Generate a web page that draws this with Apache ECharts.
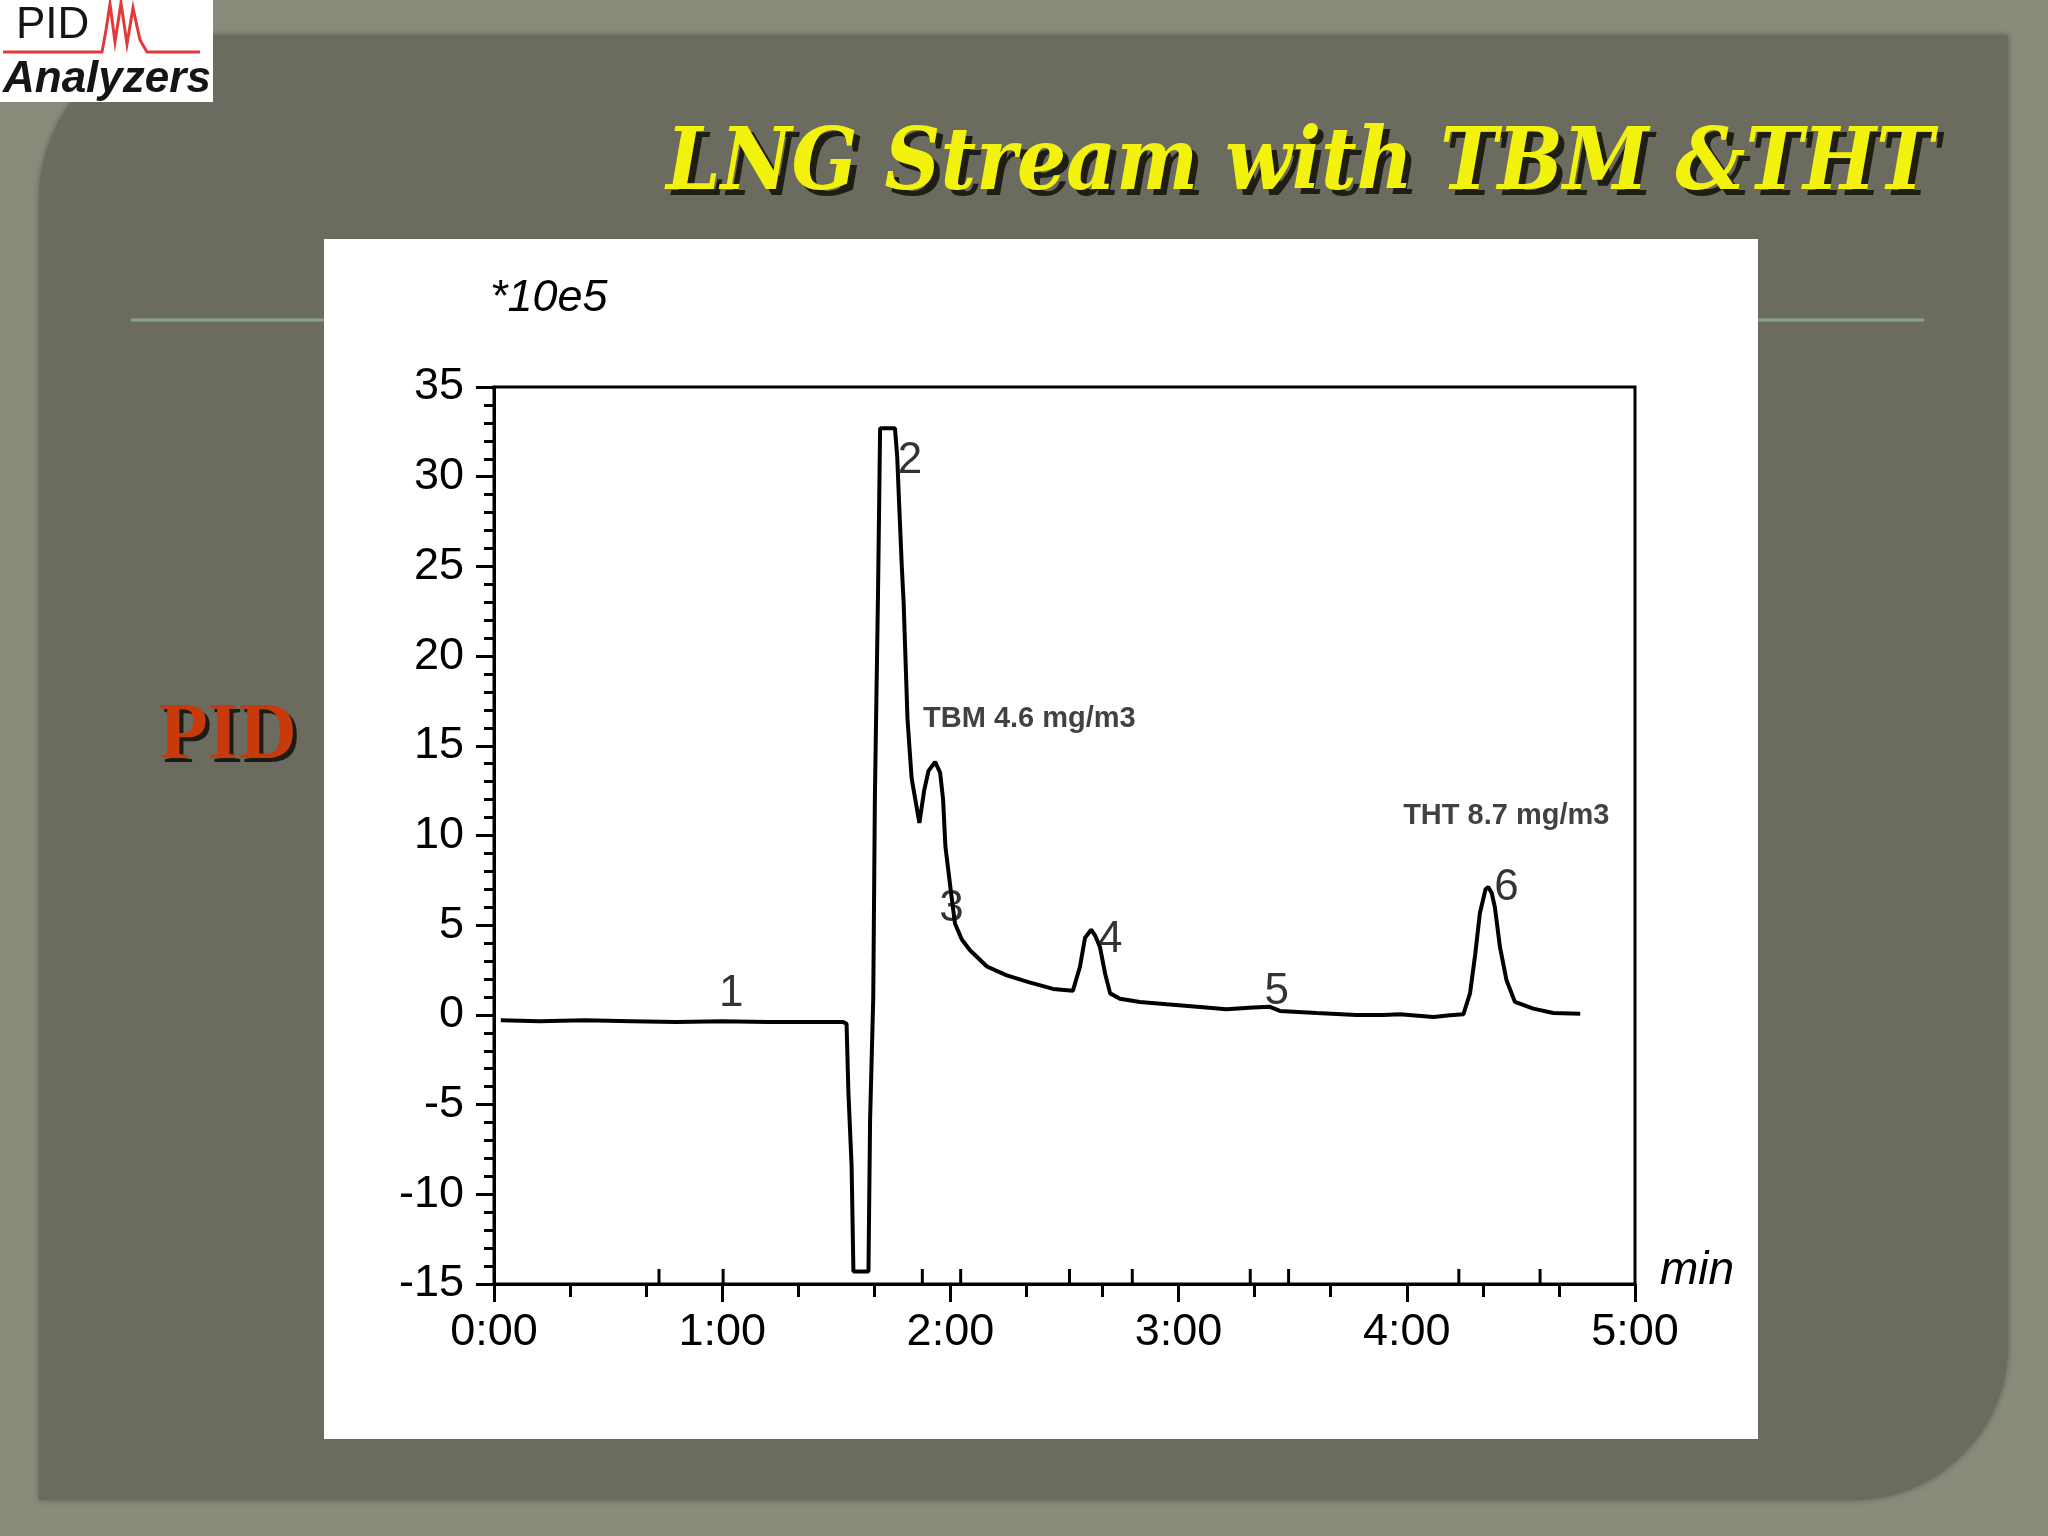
<!DOCTYPE html>
<html>
<head>
<meta charset="utf-8">
<script src="https://cdn.jsdelivr.net/npm/echarts@6/dist/echarts.min.js"></script>
<style>
html,body{margin:0;padding:0;background:#8a8c7b;}
#chart{width:2048px;height:1536px;}
</style>
</head>
<body>
<div id="chart"></div>
<script>
// ---- data (time in minutes, signal in units of 10e5) ----
const times = [0.03,0.2,0.4,0.6,0.8,1.0,1.2,1.4,1.53,
  1.545,1.553,1.567,1.575,1.641,
  1.648,1.662,1.669,1.683,1.692,1.757,
  1.767,1.775,1.787,1.795,1.812,1.83,1.864,
  1.885,1.904,1.933,1.955,1.968,1.978,2.0,2.02,2.05,2.086,2.16,2.247,2.35,2.45,2.537,
  2.568,2.59,2.617,2.635,2.655,2.678,2.70,2.743,2.83,2.948,3.094,3.21,3.327,3.40,3.444,3.605,3.78,3.897,3.97,4.117,4.19,4.248,
  4.277,4.3,4.32,4.345,4.357,4.372,4.386,4.408,4.437,4.474,4.554,4.642,4.76];
const signal = [-0.3,-0.35,-0.3,-0.35,-0.4,-0.35,-0.4,-0.4,-0.4,
  -0.5,-4.3,-8.4,-14.3,-14.3,
  -5.9,1.0,12.0,23.7,32.7,32.7,
  31.1,28.6,25.0,23.0,16.5,13.2,10.7,
  12.5,13.6,14.1,13.5,12.0,9.4,7.1,5.1,4.2,3.6,2.7,2.2,1.8,1.45,1.35,
  2.7,4.3,4.75,4.4,3.8,2.3,1.2,0.9,0.72,0.59,0.44,0.31,0.41,0.45,0.22,0.11,0.0,0.0,0.03,-0.12,-0.02,0.03,
  1.2,3.4,5.65,7.0,7.13,6.8,6.0,3.8,1.93,0.72,0.35,0.11,0.07];

// peak numbers and their label positions
const peakNames = ['1','2','3','4','5','6'];
const peakLabelT = [1.04,1.823,2.005,2.70,3.43,4.437];
const peakLabelV = [1.2,30.9,5.9,4.2,1.3,7.1];

// concentration annotations (left edge positions)
const noteTexts = ['TBM 4.6 mg/m3','THT 8.7 mg/m3'];
const noteT = [1.88,3.984];
const noteV = [16.5,11.1];

// peak start/end integration markers (minutes)
const peakMarks = [0.723,1.004,1.877,2.045,2.522,2.797,3.314,3.482,4.228,4.584];

// axis settings
const xMin = 0, xMax = 5, xStep = 1;
const yMin = -15, yMax = 35, yStep = 5;

const lineData = times.map((t,i)=>[t,signal[i]]);
const peakLabelData = peakNames.map((n,i)=>({name:n,value:[peakLabelT[i],peakLabelV[i]]}));
const noteData = noteTexts.map((n,i)=>({name:n,value:[noteT[i],noteV[i]]}));
const markData = peakMarks.map(t=>[t,yMin]);

const chart = echarts.init(document.getElementById('chart'));
const sans = "'Liberation Sans', Arial, sans-serif";
const titleFont = "italic bold 86px 'DejaVu Serif Condensed','DejaVu Serif',serif";

chart.setOption({
  animation:false,
  backgroundColor:'#8a8c7b',
  graphic:[
    {type:'rect', z:-100, shape:{x:39,y:35,width:1969,height:1465,r:[165,0,155,0]},
      style:{fill:'#6b6c5f', shadowColor:'rgba(0,0,0,0.35)', shadowBlur:6}},
    {type:'line', z:-99, shape:{x1:131,y1:320,x2:1924,y2:320}, style:{stroke:'#86a486',lineWidth:3}},
    {type:'rect', z:-98, shape:{x:324,y:239,width:1434,height:1200}, style:{fill:'#ffffff'}},
    // title (shadow + text)
    {type:'text', z:-90, style:{text:'LNG Stream with TBM &THT', x:1306, y:173, align:'center', verticalAlign:'middle',
      font:titleFont, fill:'#1e1e14', shadowColor:'rgba(0,0,0,0.6)', shadowBlur:4}},
    {type:'text', z:-89, style:{text:'LNG Stream with TBM &THT', x:1300, y:167, align:'center', verticalAlign:'middle',
      font:titleFont, fill:'#f2f20c'}},
    // PID side label
    {type:'text', z:-90, style:{text:'PID', x:163, y:781, align:'left', verticalAlign:'bottom',
      font:"bold 80px 'Liberation Serif','Times New Roman',serif", fill:'#1c1c14'}},
    {type:'text', z:-89, style:{text:'PID', x:159, y:777, align:'left', verticalAlign:'bottom',
      font:"bold 80px 'Liberation Serif','Times New Roman',serif", fill:'#c73a0c'}},
    // logo
    {type:'rect', z:-80, shape:{x:0,y:0,width:213,height:102}, style:{fill:'#ffffff'}},
    {type:'text', z:-79, style:{text:'PID', x:16, y:26, align:'left', verticalAlign:'middle',
      font:"44px "+sans, fill:'#151515'}},
    {type:'polyline', z:-79, shape:{points:[[3,52],[102,52],[106,30],[110,4],[115,42],[121,3],[127,44],[133,8],[140,40],[147,52],[200,52]]},
      style:{stroke:'#e23a3a', lineWidth:3, fill:null}},
    {type:'text', z:-79, style:{text:'Analyzers', x:3, y:80, align:'left', verticalAlign:'middle',
      font:"italic bold 44px "+sans, fill:'#151515'}},
    // unit labels
    {type:'text', z:-70, style:{text:'*10e5', x:490, y:298, align:'left', verticalAlign:'middle',
      font:"italic 45px "+sans, fill:'#000'}},
    {type:'text', z:-70, style:{text:'min', x:1660, y:1294, align:'left', verticalAlign:'bottom',
      font:"italic 46px "+sans, fill:'#000'}}
  ],
  grid:{left:494, right:413, top:387, bottom:252, show:true, borderColor:'#000', borderWidth:3, backgroundColor:'transparent'},
  xAxis:{
    type:'value', min:xMin, max:xMax, interval:xStep,
    axisLine:{show:true, onZero:false, lineStyle:{color:'#000', width:3}},
    axisTick:{show:true, inside:false, length:18, lineStyle:{color:'#000', width:3}},
    minorTick:{show:true, splitNumber:3, length:13, lineStyle:{color:'#000', width:3}},
    splitLine:{show:false},
    axisLabel:{margin:26, fontSize:45, fontFamily:sans, color:'#000',
      formatter:v=>Math.round(v)+':00'}
  },
  yAxis:{
    type:'value', min:yMin, max:yMax, interval:yStep,
    axisLine:{show:true, onZero:false, lineStyle:{color:'#000', width:3}},
    axisTick:{show:true, inside:false, length:18, lineStyle:{color:'#000', width:3}},
    minorTick:{show:true, splitNumber:5, length:10, lineStyle:{color:'#000', width:3}},
    splitLine:{show:false},
    axisLabel:{margin:30, fontSize:45, fontFamily:sans, color:'#000'}
  },
  series:[
    {type:'line', data:lineData, showSymbol:false, symbol:'none', lineStyle:{color:'#000', width:4}, z:3},
    {type:'custom', data:markData, z:4,
      renderItem:(params,api)=>{
        const p = api.coord([api.value(0), api.value(1)]);
        return {type:'line', shape:{x1:p[0],y1:p[1],x2:p[0],y2:p[1]-15}, style:{stroke:'#000', lineWidth:3}};
      }},
    {type:'scatter', data:peakLabelData, symbolSize:0, z:5,
      label:{show:true, formatter:'{b}', position:[0,0], align:'center', verticalAlign:'middle',
        fontSize:44, fontFamily:sans, color:'#000'}},
    {type:'scatter', data:noteData, symbolSize:0, z:5,
      label:{show:true, formatter:'{b}', position:[0,0], align:'left', verticalAlign:'middle',
        fontSize:29, fontWeight:'bold', fontFamily:sans, color:'#111'}}
  ]
});
</script>
</body>
</html>
